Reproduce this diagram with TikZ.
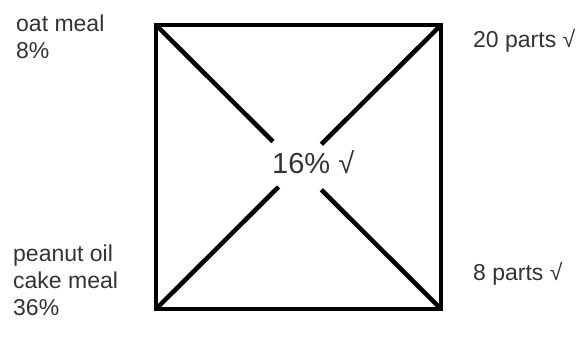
\documentclass[tikz,border=0pt]{standalone}
\usepackage{fontspec}
\setmainfont{Liberation Sans}
\usetikzlibrary{calc,positioning}

\begin{document}
\begin{tikzpicture}[x=1pt,y=-1pt]

\tikzset{lbl/.style = {inner sep=0pt, text=black!80, font=\fontsize{23}{27}\selectfont, align=left}}
\tikzset{mixlbl/.style = {inner sep=0pt, text=black!80, font=\fontsize{29}{33}\selectfont}}
\tikzset{edge1/.style = {line width=4.5pt, black}}

\useasboundingbox (0,0) rectangle (585,359);

% corners
\coordinate (tl) at (156,25);
\coordinate (tr) at (441,25);
\coordinate (bl) at (156,309);
\coordinate (br) at (441,309);

% labels
\node[lbl, anchor=north west] (oat) at (16,15) {oat meal\\8\%};
\node[lbl, anchor=north west] (peanut) at (13,245) {peanut oil\\cake meal\\36\%};
\node[lbl, anchor=base west] (twenty) at (473,47) {20 parts √};
\node[lbl, anchor=base west] (eight) at (473,280) {8 parts √};
\node[mixlbl, anchor=base west] (mix) at (272,173) {16\% √};

%edges
\draw[edge1] (tl) rectangle (br);

\coordinate (tlend) at ($(tl)!0.41!(br)$);
\coordinate (trend) at ($(tr)!0.42!(bl)$);
\coordinate (blend) at ($(bl)!0.43!(tr)$);
\coordinate (brend) at ($(br)!0.42!(tl)$);

\draw[edge1] (tl) -- (tlend);
\draw[edge1] (tr) -- (trend);
\draw[edge1] (bl) -- (blend);
\draw[edge1] (br) -- (brend);

\end{tikzpicture}
\end{document}
